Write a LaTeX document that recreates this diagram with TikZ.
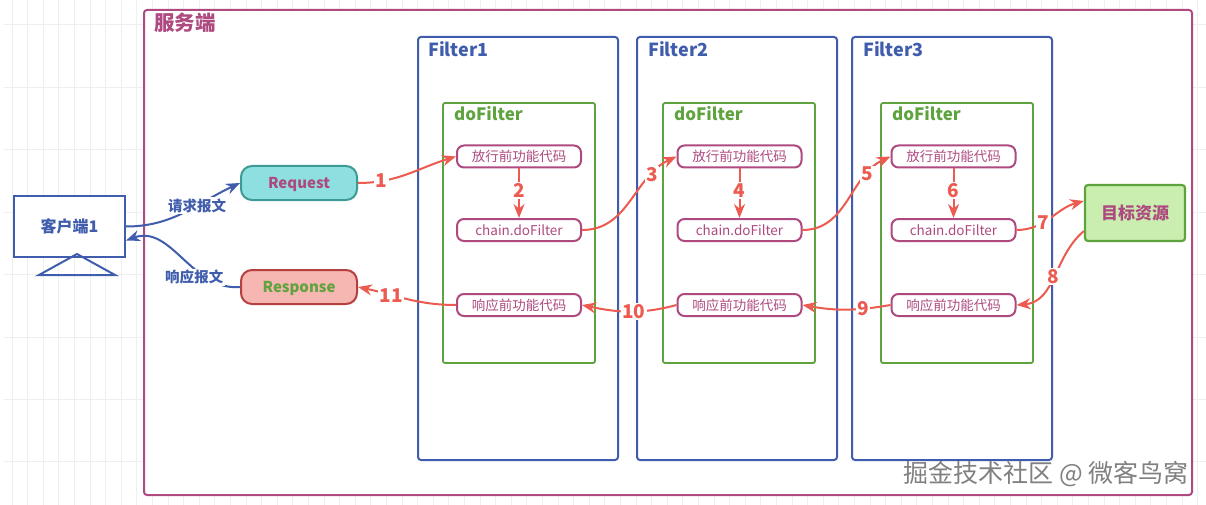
\documentclass[tikz,border=0pt]{standalone}
\usepackage{fontspec}
\setmainfont{Noto Sans CJK SC}
\usetikzlibrary{arrows.meta, positioning}
\definecolor{plum}{HTML}{AE4A80}
\definecolor{navy}{HTML}{3F5CAD}
\definecolor{leaf}{HTML}{5FA33F}
\definecolor{coral}{HTML}{EC5A50}
\definecolor{tealfill}{HTML}{8DE0DF}
\definecolor{tealline}{HTML}{3E9A94}
\definecolor{pinkfill}{HTML}{F6B6B1}
\definecolor{pinkline}{HTML}{B5403F}
\definecolor{limefill}{HTML}{C9EEB0}
\definecolor{gridline}{HTML}{EFEFEF}
\tikzstyle{flowchart}=[x=1pt, y=-1pt, >={Stealth[length=14pt, width=11pt]},
                         font=\fontsize{13.5}{15}\selectfont]
\tikzstyle{serverbox}=[draw=plum, fill=white, line width=2pt, rounded corners=3pt,
                         minimum width=1048pt, minimum height=485pt, inner sep=0pt]
\tikzstyle{filterbox}=[draw=navy, line width=2pt, rounded corners=3pt,
                         minimum width=200pt, minimum height=423pt, inner sep=0pt]
\tikzstyle{methodbox}=[draw=leaf, line width=1.8pt, rounded corners=2pt,
                         minimum width=152pt, minimum height=260pt, inner sep=0pt]
\tikzstyle{codebox}=[draw=plum, line width=2pt, rounded corners=7pt, text=plum,
                         minimum width=124pt, minimum height=22pt, inner sep=0pt]
\tikzstyle{title}=[font=\fontsize{18}{20}\selectfont\bfseries, inner sep=0pt, anchor=west]
\tikzstyle{methodtitle}=[title, text=leaf, font=\fontsize{17}{19}\selectfont\bfseries]
\tikzstyle{flow}=[->, color=coral, line width=2pt]
\tikzstyle{steplabel}=[fill=white, text=coral, inner sep=1.5pt,
                         font=\fontsize{19}{21}\selectfont\bfseries]
\tikzstyle{message}=[->, draw=navy, line width=2pt]
\tikzstyle{messagelabel}=[fill=white, text=navy, inner sep=1.5pt,
                         font=\fontsize{14.5}{16}\selectfont\bfseries]
\tikzstyle{endpoint}=[line width=2pt, rounded corners=11pt, minimum width=116pt, minimum height=34pt,
                         inner sep=0pt, text height=14pt, text depth=3pt,
                         font=\fontsize{15}{17}\selectfont\bfseries]

\begin{document}
\begin{tikzpicture}[flowchart]
  \useasboundingbox (0,0) rectangle (1206,505);
  % faint page grid
  \foreach \gx in {12,27.6,...,1206} \draw[gridline, line width=.7pt] (\gx,0) -- (\gx,505);
  \foreach \gy in {25,87.4,...,505} \draw[gridline, line width=1pt] (4,\gy) -- (1206,\gy);

  \node[serverbox] (server) at (668,252.5) {};
  \node[title, text=plum, font=\fontsize{20.5}{22}\selectfont\bfseries] (servertitle) at (154,23) {服务端};

  \node[filterbox] (filter1) at (518,248.5) {};
  \node[filterbox] (filter2) [right=17pt of filter1] {};
  \node[filterbox] (filter3) [right=13pt of filter2] {};
  \node[title, text=navy] (filter1title) at (428,49) {Filter1};
  \node[title, text=navy] (filter2title) at (648,49) {Filter2};
  \node[title, text=navy] (filter3title) at (863,49) {Filter3};

  \node[methodbox] (method1) at (519,233) {};
  \node[methodbox] (method2) at (739,233) {};
  \node[methodbox] (method3) at (957,233) {};
  \node[methodtitle] (method1title) at (454,114) {doFilter};
  \node[methodtitle] (method2title) at (674,114) {doFilter};
  \node[methodtitle] (method3title) at (892,114) {doFilter};

  \node[codebox] (pass1) at (519,156.5) {放行前功能代码};
  \node[codebox] (chain1) at (519,230) {chain.doFilter};
  \node[codebox] (resp1) at (519,305) {响应前功能代码};
  \node[codebox] (pass2) at (739.5,156.5) {放行前功能代码};
  \node[codebox] (chain2) at (739.5,230) {chain.doFilter};
  \node[codebox] (resp2) at (739.5,305) {响应前功能代码};
  \node[codebox] (pass3) at (953.5,156.5) {放行前功能代码};
  \node[codebox] (chain3) at (953.5,230) {chain.doFilter};
  \node[codebox] (resp3) at (953.5,305) {响应前功能代码};

  \node[endpoint, draw=tealline, fill=tealfill, text=plum] (request) at (299,183) {Request};
  \node[endpoint, draw=pinkline, fill=pinkfill, text=leaf] (response) at (299,287) {Response};
  \node[draw=leaf, fill=limefill, line width=2.2pt, rounded corners=3pt, text=plum,
        minimum width=100pt, minimum height=56pt, inner sep=0pt,
        font=\fontsize{17}{19}\selectfont\bfseries] (target) at (1135,213) {目标资源};

  % client screen and its stand
  \node[draw=navy, fill=white, line width=2pt, text=navy, minimum width=111pt, minimum height=61pt,
        inner sep=0pt, font=\fontsize{16}{18}\selectfont\bfseries] (client) at (69.5,226.5) {客户端1};
  \coordinate (standtop) at (77,254);
  \coordinate (standleft) at (39,275);
  \coordinate (standright) at (115,275);
  \draw[navy, line width=2pt] (standtop) -- (standright) -- (standleft) -- cycle;

  \draw[message] (client.east) to[out=0, in=205] node[messagelabel, pos=.62] {请求报文} (request.west);
  \draw[message] (response.west) to[out=185, in=20]
    node[messagelabel, pos=.38, yshift=-8pt] {响应报文} ([yshift=-14pt]client.east);

  \path[flow] (request.east) edge[out=0, in=197] node[steplabel, pos=.22] {1} (pass1.west);
  \path[flow] (pass1.south) edge node[steplabel, pos=.45] {2} (chain1.north);
  \path[flow] (chain1.east) edge[out=0, in=205] node[steplabel, pos=.77] {3} (pass2.west);
  \path[flow] (pass2.south) edge node[steplabel, pos=.45] {4} (chain2.north);
  \path[flow] (chain2.east) edge[out=0, in=205] node[steplabel, pos=.77] {5} (pass3.west);
  \path[flow] (pass3.south) edge node[steplabel, pos=.45] {6} (chain3.north);
  \path[flow] (chain3.east) edge[out=0, in=195] node[steplabel, pos=.38] {7} ([yshift=12pt]target.west);
  \path[flow] ([yshift=-18pt]target.west) edge[out=220, in=5] node[steplabel, pos=.5] {8} (resp3.east);
  \path[flow] (resp3.west) edge[out=190, in=-10] node[steplabel, pos=.3] {9} (resp2.east);
  \path[flow] (resp2.west) edge[out=195, in=-12] node[steplabel, pos=.45] {10} (resp1.east);
  \path[flow] (resp1.west) edge[out=180, in=-12] node[steplabel, pos=.67] {11} (response.east);

  \node[text=black!50, inner sep=0pt, anchor=east, font=\fontsize{25}{27}\selectfont] (mark) at (1189,474) {掘金技术社区 @ 微客鸟窝};
\end{tikzpicture}
\end{document}
